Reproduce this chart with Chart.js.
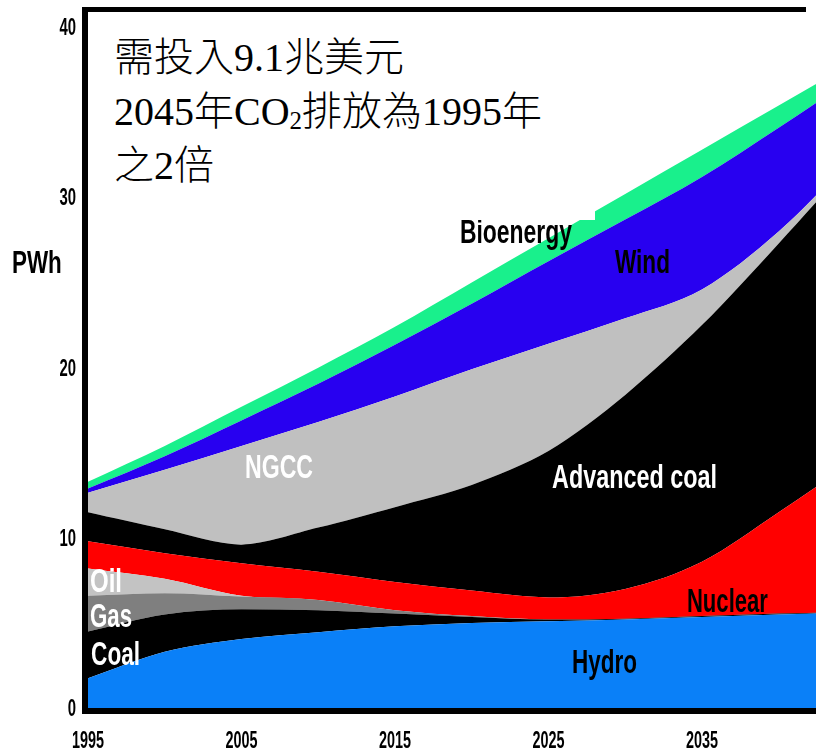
<!DOCTYPE html>
<html>
<head>
<meta charset="utf-8">
<script src="https://cdn.jsdelivr.net/npm/chart.js@4.4.1/dist/chart.umd.min.js"></script>
<style>
  body { margin: 0; background: #fff; }
  #wrap { position: relative; width: 816px; height: 751px; }
  #note {
    position: absolute; left: 88px; top: 12px; width: 507px; height: 208px;
    background: #fff; box-sizing: border-box; padding: 19px 0 0 26px;
    font-family: "Liberation Serif", "Noto Sans CJK TC", serif;
    font-size: 40px; font-weight: 300; line-height: 54px; color: #000; white-space: nowrap;
  }
  #note sub { font-size: 25px; line-height: 0; vertical-align: -4px; }
</style>
</head>
<body>
<div id="wrap">
  <canvas id="chart" width="816" height="751"></canvas>
  <div id="note">需投入9.1兆美元<br>2045年CO<sub>2</sub>排放為1995年<br>之2倍</div>
</div>
<script>
// PWh by source, stacked from the bottom up
const years   = [1995, 2000, 2005, 2010, 2015, 2020, 2025, 2030, 2035, 2040, 2045];
const hydro   = [1.75, 3.3, 4.05, 4.45, 4.8, 5.0, 5.1, 5.2, 5.35, 5.5, 5.6];
const coal    = [2.75, 2.2, 1.75, 1.3, 0.75, 0.35, 0.1, 0.05, 0.05, 0.05, 0.05];
const gas     = [2.1, 1.25, 0.75, 0.6, 0.2, 0.05, 0, 0, 0, 0, 0];
const oil     = [1.6, 0.85, 0.05, 0, 0, 0, 0, 0, 0, 0, 0];
const nuclear = [1.6, 1.5, 1.9, 1.65, 1.65, 1.5, 1.3, 1.75, 3.2, 5.95, 8.95];
const advCoal = [1.7, 1.4, 1.1, 2.6, 4.4, 6.2, 8.6, 11.4, 13.9, 15.8, 17.7];
const ngcc    = [1.15, 3.5, 5.8, 6.2, 6.5, 6.8, 6.3, 4.5, 2.1, 0.7, 0.2];
const wind    = [0.25, 0.8, 1.5, 2.25, 3.05, 3.85, 4.85, 5.8, 6.6, 6.1, 4.6];
const bio     = [0.4, 0.6, 0.8, 0.95, 1.05, 1.25, 1.35, 1.5, 1.6, 1.3, 0.9];

const xTicks = [1995, 2005, 2015, 2025, 2035];
const yTicks = [0, 10, 20, 30, 40];

// text placed in data coordinates: [text, year, value (baseline), width px, colour]
const layerLabels = [
  ['Oil', 1995.13, 6.82, 32, '#fff'],
  ['Gas', 1995.13, 4.76, 42, '#fff'],
  ['Coal', 1995.2, 2.53, 49, '#fff'],
  ['NGCC', 2005.23, 13.53, 68, '#fff'],
  ['Advanced coal', 2025.23, 12.94, 165, '#fff'],
  ['Bioenergy', 2019.23, 27.35, 112, '#000'],
  ['Wind', 2029.33, 25.59, 55, '#000'],
  ['Nuclear', 2034.02, 5.65, 81, '#000'],
  ['Hydro', 2026.53, 2.06, 65, '#000']
];

const series = [
  ['Hydro', hydro, '#0a80f8'],
  ['Coal', coal, '#000000'],
  ['Gas', gas, '#7f7f7f'],
  ['Oil', oil, '#c3c3c3'],
  ['Nuclear', nuclear, '#ff0000'],
  ['Advanced coal', advCoal, '#000000'],
  ['NGCC', ngcc, '#c0c0c0'],
  ['Wind', wind, '#2800f0'],
  ['Bioenergy', bio, '#19f08c']
];

function squeezed(ctx, text, px, py, size, sx, align) {
  ctx.save();
  ctx.font = 'bold ' + size + 'px "Liberation Sans", Arial, sans-serif';
  ctx.translate(px, py);
  ctx.scale(sx, 1);
  ctx.textAlign = align;
  ctx.textBaseline = 'alphabetic';
  ctx.fillText(text, 0, 0);
  ctx.restore();
}

const frameAndText = {
  id: 'frameAndText',
  afterDatasetsDraw(chart) {
    const { ctx, chartArea: a, scales: { x, y } } = chart;
    ctx.save();
    ctx.fillStyle = '#000';
    ctx.fillRect(a.left - 6, a.top - 5, 6, a.bottom - a.top + 11);
    ctx.fillRect(a.left - 6, a.top - 5, 724, 5);
    ctx.fillRect(a.left - 6, a.bottom, a.right - a.left + 6, 6);

    yTicks.forEach(v => squeezed(ctx, String(v), a.left - 12, y.getPixelForValue(v) + 8, 24, 0.62, 'right'));
    xTicks.forEach(v => squeezed(ctx, String(v), x.getPixelForValue(v), 748, 24, 0.6, 'center'));
    squeezed(ctx, 'PWh', 12, 273, 32, 0.7, 'left');

    layerLabels.forEach(([text, yr, val, w, col]) => {
      ctx.font = 'bold 33px "Liberation Sans", Arial, sans-serif';
      const sx = w / ctx.measureText(text).width;
      ctx.fillStyle = col;
      squeezed(ctx, text, x.getPixelForValue(yr), y.getPixelForValue(val), 33, sx, 'left');
    });
    ctx.restore();
  }
};

new Chart(document.getElementById('chart'), {
  type: 'line',
  data: {
    datasets: series.map(([name, vals, colour], i) => ({
      label: name,
      data: years.map((yr, j) => ({ x: yr, y: vals[j] })),
      backgroundColor: colour,
      borderWidth: 0,
      pointRadius: 0,
      fill: i === 0 ? 'origin' : '-1',
      // advanced-coal top dips sharply at 2005: light bezier instead of monotone
      cubicInterpolationMode: name === 'Advanced coal' ? 'default' : 'monotone',
      tension: name === 'Advanced coal' ? 0.3 : 0
    }))
  },
  options: {
    responsive: false,
    animation: false,
    layout: { padding: { top: 12, right: 0, bottom: 0, left: 0 } },
    plugins: { legend: { display: false }, tooltip: { enabled: false } },
    scales: {
      x: {
        type: 'linear',
        min: 1995,
        max: 2042.43,
        grid: { display: false, drawTicks: false },
        border: { display: false },
        ticks: { display: false },
        afterBuildTicks: s => { s.ticks = xTicks.map(v => ({ value: v })); },
        afterFit: s => { s.height = 43; }
      },
      y: {
        stacked: true,
        min: 0,
        max: 40.9,
        grid: { display: false, drawTicks: false },
        border: { display: false },
        ticks: { display: false },
        afterBuildTicks: s => { s.ticks = yTicks.map(v => ({ value: v })); },
        afterFit: s => { s.width = 88; }
      }
    }
  },
  plugins: [frameAndText]
});
</script>
</body>
</html>
